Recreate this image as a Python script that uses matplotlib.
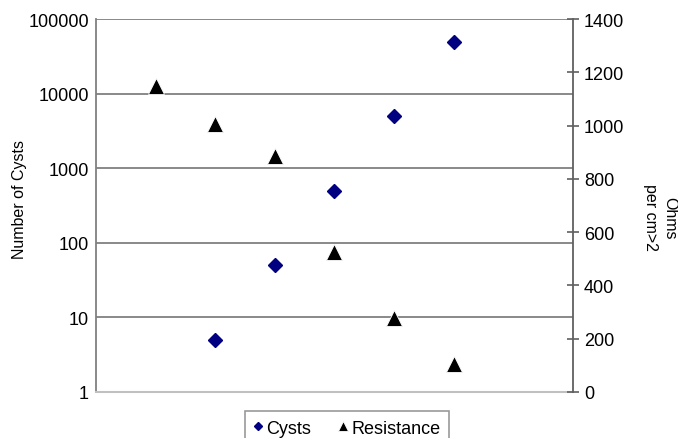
import matplotlib.pyplot as plt
import numpy as np

plt.rcParams['font.family'] = ['Liberation Sans', 'DejaVu Sans']

# data
cyst_x = [2, 3, 4, 5, 6]
cysts = [5, 50, 500, 5000, 50000]
res_x = [1, 2, 3, 4, 5, 6]
resistance = [1150, 1005, 888, 525, 278, 106]

fig = plt.figure(figsize=(6.78, 4.39), dpi=100)
ax = fig.add_axes([0.1416, 0.1048, 0.7034, 0.8492])
ax2 = ax.twinx()

ax.set_yscale('log')
ax.set_ylim(1, 100000)
ax.set_xlim(0, 8)
ax.set_yticks([1, 10, 100, 1000, 10000, 100000])
ax.set_yticklabels(['1', '10', '100', '1000', '10000', '100000'])
ax.yaxis.set_minor_locator(plt.NullLocator())
ax.set_xticks([])
ax.tick_params(axis='y', length=0, pad=5, labelsize=13)
for v in [10, 100, 1000, 10000, 100000]:
    ax.axhline(v, color='#808080', lw=1.3, zorder=1)

ax.spines['left'].set_color('#808080')
ax.spines['left'].set_linewidth(1.3)
ax.spines['bottom'].set_color('#c0c0c0')
ax.spines['bottom'].set_linewidth(1.5)
ax.spines['top'].set_visible(False)
ax.spines['right'].set_visible(False)
ax.set_ylabel('Number of Cysts', fontsize=11.5)
ax.yaxis.set_label_coords(-0.145, 0.52)

ax2.set_ylim(0, 1400)
ax2.set_yticks(np.arange(0, 1401, 200))
ax2.tick_params(axis='y', direction='inout', length=8, width=1.2,
                color='#606060', labelsize=13, pad=4)
for s in ['left', 'top', 'bottom']:
    ax2.spines[s].set_visible(False)
ax2.spines['right'].set_color('#606060')
ax2.spines['right'].set_linewidth(1.3)
ax2.set_ylabel('Ohms\nper cm>2', fontsize=11.5, rotation=270, linespacing=1.3,
               va='center')
ax2.yaxis.set_label_coords(1.183, 0.47)

h1, = ax.plot(cyst_x, cysts, linestyle='none', marker='D', markersize=7,
              color='#000080', label='Cysts', zorder=3)
h2, = ax2.plot(res_x, resistance, linestyle='none', marker='^',
               markersize=11, color='black', markeredgecolor='white',
               markeredgewidth=0.6, label='Resistance', zorder=3)

leg = fig.legend([h1, h2], ['Cysts', 'Resistance'], loc='upper center',
                 bbox_to_anchor=(0.512, 0.083), ncol=2, frameon=True,
                 fancybox=False, edgecolor='#808080', fontsize=13,
                 handlelength=0.5, handletextpad=0.2, columnspacing=1.5,
                 borderpad=0.5, markerscale=0.6)
leg.get_frame().set_linewidth(1.2)

fig.savefig('out.png', dpi=100)
